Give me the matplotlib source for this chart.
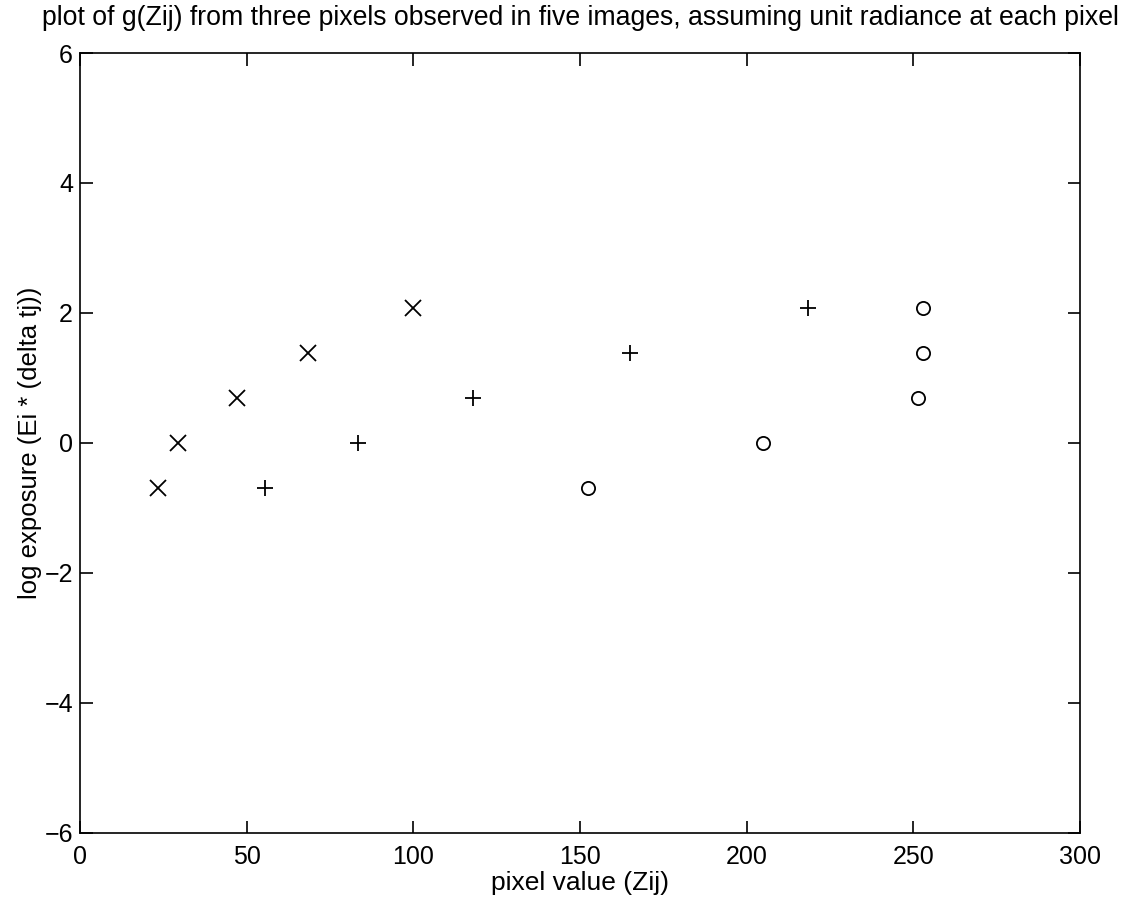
import matplotlib
matplotlib.use("Agg")
import matplotlib.pyplot as plt

# pixel values Z_ij for three pixels across five exposures
log_exposure = [-0.69, 0.0, 0.69, 1.39, 2.08]
pixel1_z = [23.5, 29.5, 47, 68.5, 100]
pixel2_z = [55.5, 83.5, 118, 165, 218.5]
pixel3_z = [152.5, 205, 251.5, 253, 253]

x_ticks = [0, 50, 100, 150, 200, 250, 300]
y_ticks = [-6, -4, -2, 0, 2, 4, 6]

plt.rcParams["font.family"] = ["Liberation Sans", "DejaVu Sans"]
plt.rcParams["axes.unicode_minus"] = True

fig = plt.figure(figsize=(11.28, 9.06), dpi=100)
ax = fig.add_axes([0.0709, 0.0806, 0.8865, 0.8609])

ax.plot(pixel1_z, log_exposure, linestyle="none", marker="x", color="black",
        markersize=11, markeredgewidth=1.3)
ax.plot(pixel2_z, log_exposure, linestyle="none", marker="+", color="black",
        markersize=12, markeredgewidth=1.3)
ax.plot(pixel3_z, log_exposure, linestyle="none", marker="o", color="black",
        markerfacecolor="none", markersize=9.5, markeredgewidth=1.3)

ax.set_xlim(0, 300)
ax.set_ylim(-6, 6)
ax.set_xticks(x_ticks)
ax.set_yticks(y_ticks)
ax.tick_params(direction="in", length=9, width=1.2, top=True, right=True,
               labelsize=18, pad=5)
ax.tick_params(axis="x", pad=9)
for spine in ax.spines.values():
    spine.set_linewidth(1.2)

ax.set_xlabel("pixel value (Zij)", fontsize=19, labelpad=1)
ax.set_ylabel("log exposure (Ei * (delta tj))", fontsize=18.5, labelpad=2)
ax.set_title("plot of g(Zij) from three pixels observed in five images, "
             "assuming unit radiance at each pixel", fontsize=19.2, pad=20)

fig.savefig("out.png", dpi=100)
